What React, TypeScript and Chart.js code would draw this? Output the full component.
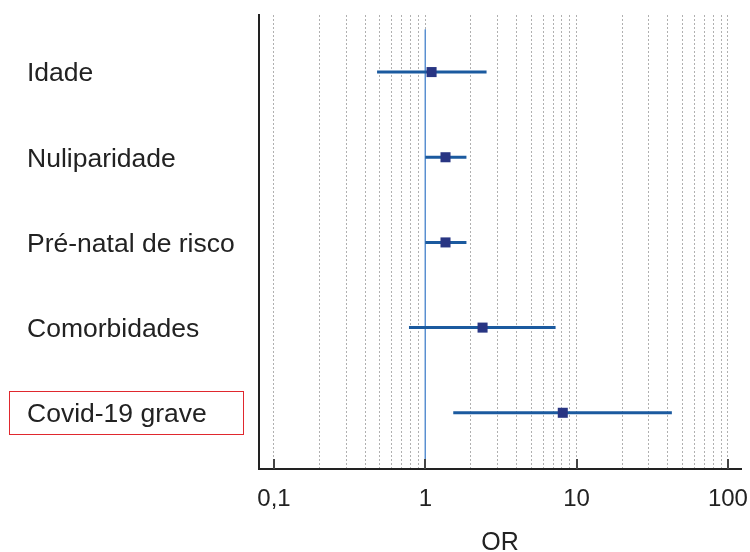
import React, { useEffect, useRef } from "react";
import { Chart, registerables } from "chart.js";

Chart.register(...registerables);

const categories = ["Idade", "Nuliparidade", "Pré-natal de risco", "Comorbidades", "Covid-19 grave"];
const oddsRatio = [1.1, 1.36, 1.36, 2.39, 8.1];
const ciLower = [0.48, 1.0, 1.0, 0.78, 1.53];
const ciUpper = [2.54, 1.87, 1.87, 7.26, 42.6];
const xTickValues = [0.1, 0.2, 0.3, 0.4, 0.5, 0.6, 0.7, 0.8, 0.9, 1, 2, 3, 4, 5, 6, 7, 8, 9, 10, 20, 30, 40, 50, 60, 70, 80, 90, 100];
const xMajorLabels: Record<string, string> = { "0.1": "0,1", "1": "1", "10": "10", "100": "100" };
const highlightedRow = 4;
const refLine = [{ x: 1, y: -0.5 }, { x: 1, y: 4.66 }];

const FONT = "'Liberation Sans', Arial, sans-serif";

export default function App() {
  const ref = useRef<HTMLCanvasElement>(null);
  useEffect(() => {
    if (!ref.current) return;
    const datasets: any[] = [];
    datasets.push({
      type: "scatter",
      data: oddsRatio.map((v, i) => ({ x: v, y: i })),
      pointStyle: "rect",
      pointRadius: 7.1,
      backgroundColor: "#283583",
      borderColor: "#283583",
      borderWidth: 0,
      order: 0,
    });
    categories.forEach((_, i) => {
      datasets.push({
        type: "scatter",
        showLine: true,
        data: [{ x: ciLower[i], y: i }, { x: ciUpper[i], y: i }],
        borderColor: "#1b5a9f",
        borderWidth: 3,
        pointRadius: 0,
        order: 1,
      });
    });
    datasets.push({
      type: "scatter",
      showLine: true,
      data: refLine,
      borderColor: "#5b8fd0",
      borderWidth: 1,
      pointRadius: 0,
      order: 2,
    });

    const decorations = {
      id: "decorations",
      afterDraw(chart: any) {
        const { ctx, scales, chartArea } = chart;
        const x = scales.x;
        const y = scales.y;
        ctx.save();
        ctx.strokeStyle = "#444";
        ctx.lineWidth = 2;
        Object.keys(xMajorLabels).forEach((k) => {
          const px = Math.round(x.getPixelForValue(parseFloat(k)));
          ctx.beginPath();
          ctx.moveTo(px, chartArea.bottom);
          ctx.lineTo(px, chartArea.bottom - 10);
          ctx.stroke();
        });
        const cy = y.getPixelForValue(highlightedRow);
        ctx.strokeStyle = "#e0282e";
        ctx.lineWidth = 1;
        ctx.strokeRect(9.5, Math.round(cy - 21.5) + 0.5, 234, 43);
        ctx.restore();
      },
    };

    const chart = new Chart(ref.current, {
      type: "scatter",
      data: { datasets },
      plugins: [decorations],
      options: {
        animation: false,
        responsive: true,
        maintainAspectRatio: false,
        layout: { padding: { top: 15, right: 9, left: 27, bottom: 0 } },
        plugins: { legend: { display: false }, tooltip: { enabled: false } },
        scales: {
          x: {
            type: "logarithmic",
            min: 0.0796,
            max: 122,
            afterBuildTicks: (s: any) => {
              s.ticks = xTickValues.map((v) => ({ value: v }));
            },
            afterFit: (s: any) => {
              s.height = 83;
              s.paddingLeft = 0;
              s.paddingRight = 0;
            },
            grid: { color: "#b0b0b0", lineWidth: 1, drawTicks: false },
            border: { display: true, color: "#222", width: 2, dash: [2, 2] },
            ticks: {
              autoSkip: false,
              maxRotation: 0,
              padding: 16,
              color: "#222",
              font: { family: FONT, size: 24 },
              callback: (v: any) => xMajorLabels[String(v)] ?? "",
            },
            title: {
              display: true,
              text: "OR",
              color: "#222",
              font: { family: FONT, size: 25 },
              padding: { top: 0, bottom: -6 },
            },
          },
          y: {
            type: "linear",
            reverse: true,
            min: -0.67,
            max: 4.66,
            afterBuildTicks: (s: any) => {
              s.ticks = categories.map((_, i) => ({ value: i }));
            },
            afterFit: (s: any) => {
              s.width = 232;
              s.paddingTop = 0;
              s.paddingBottom = 0;
            },
            grid: { display: false, drawTicks: false },
            border: { display: true, color: "#222", width: 2 },
            ticks: {
              crossAlign: "far",
              padding: 0,
              labelOffset: 2,
              color: "#222",
              font: { family: FONT, size: 26.5 },
              callback: (v: any) => categories[v] ?? "",
            },
          },
        },
      },
    } as any);
    return () => chart.destroy();
  }, []);
  return (
    <div style={{ position: "fixed", left: 0, top: 0, width: 750, height: 552, background: "#fff" }}>
      <canvas ref={ref} />
    </div>
  );
}
